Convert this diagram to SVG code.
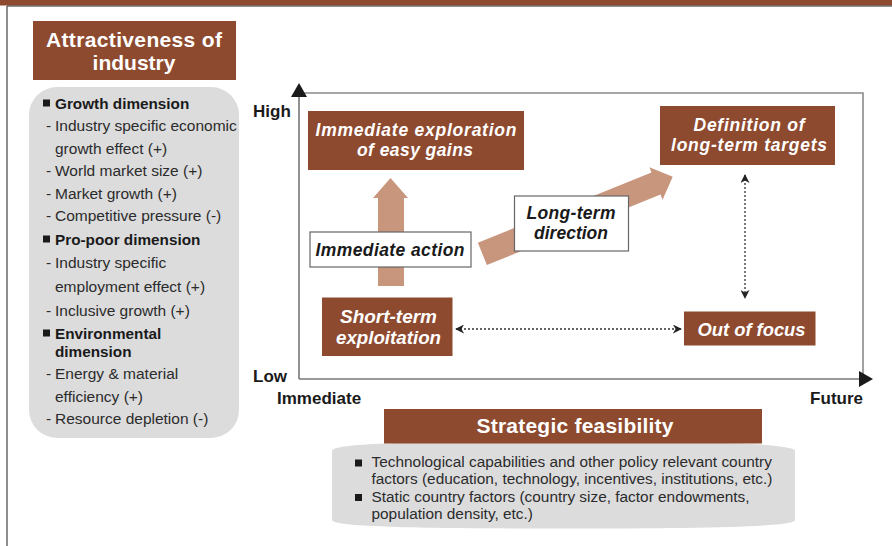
<svg xmlns="http://www.w3.org/2000/svg" width="892" height="546" viewBox="0 0 892 546">
<defs>
<style>
.brown{fill:#8E4A2F}
.tan{fill:#C8957D}
.panel{fill:#DCDCDD}
.wbox{fill:#FFFFFF;stroke:#666;stroke-width:1.2}
.t{font-family:"Liberation Sans",Arial,Helvetica,sans-serif}
.title{font-size:21px;font-weight:bold;fill:#FFFFFF}
.boxt{font-size:17.5px;font-weight:bold;font-style:italic;fill:#FFFFFF}
.boxc{font-size:18.5px;font-weight:bold;font-style:italic;fill:#FFFFFF}
.lbl{font-size:17.5px;font-weight:bold;font-style:italic;fill:#1a1a1a}
.ax{font-size:17px;font-weight:bold;fill:#1a1a1a}
.item{font-size:15.5px;fill:#2b2b2b}
.head{font-size:15.3px;font-weight:bold;fill:#1a1a1a}
.feas{font-size:15.4px;fill:#2b2b2b}
.dot{fill:none;stroke:#333;stroke-width:1.3;stroke-dasharray:2 2}
.axis{stroke:#777;stroke-width:1.6;fill:none}
.frame{stroke:#8a8a8a;stroke-width:1.6;fill:none}
</style>
<marker id="ah" viewBox="0 0 10 10" refX="9" refY="5" markerWidth="9" markerHeight="9" markerUnits="userSpaceOnUse" orient="auto-start-reverse">
<path d="M0,0 L10,5 L0,10 L3,5 Z" fill="#222"/>
</marker>
</defs>

<!-- page frame -->
<rect x="0" y="0" width="892" height="5.5" class="brown"/>
<line x1="7" y1="6" x2="892" y2="6" stroke="#2b2b2b" stroke-width="1.2"/>
<line x1="7" y1="6" x2="7" y2="546" stroke="#444" stroke-width="1.2"/>

<!-- Attractiveness panel -->
<g id="attractiveness">
<rect x="33" y="21" width="203" height="59" class="brown"/>
<text class="t title" x="134" y="46.5" text-anchor="middle" textLength="176" lengthAdjust="spacing">Attractiveness of</text>
<text class="t title" x="134" y="69.5" text-anchor="middle">industry</text>
</g>

<g id="attractiveness-list">
<rect x="29" y="87" width="210" height="351" rx="28" ry="28" class="panel"/>
<rect x="43" y="99.5" width="7" height="7" fill="#1a1a1a"/>
<text class="t head" x="55" y="108.5">Growth dimension</text>
<text class="t item" x="46" y="131">-</text>
<text class="t item" x="55" y="131">Industry specific economic</text>
<text class="t item" x="55" y="153.5">growth effect (+)</text>
<text class="t item" x="46" y="176">-</text>
<text class="t item" x="55" y="176">World market size (+)</text>
<text class="t item" x="46" y="198.5">-</text>
<text class="t item" x="55" y="198.5">Market growth (+)</text>
<text class="t item" x="46" y="221">-</text>
<text class="t item" x="55" y="221">Competitive pressure (-)</text>
<rect x="43" y="235.5" width="7" height="7" fill="#1a1a1a"/>
<text class="t head" x="55" y="244.5">Pro-poor dimension</text>
<text class="t item" x="46" y="268">-</text>
<text class="t item" x="55" y="268">Industry specific</text>
<text class="t item" x="55" y="292">employment effect (+)</text>
<text class="t item" x="46" y="315.5">-</text>
<text class="t item" x="55" y="315.5">Inclusive growth (+)</text>
<rect x="43" y="329.5" width="7" height="7" fill="#1a1a1a"/>
<text class="t head" x="55" y="338.5">Environmental</text>
<text class="t head" x="55" y="356.5">dimension</text>
<text class="t item" x="46" y="379">-</text>
<text class="t item" x="55" y="379">Energy &amp; material</text>
<text class="t item" x="55" y="401.7">efficiency (+)</text>
<text class="t item" x="46" y="424.3">-</text>
<text class="t item" x="55" y="424.3">Resource depletion (-)</text>
</g>

<!-- Axes and chart frame -->
<g id="axes">
<polyline points="299,93 863,93 863,379" class="frame"/>
<line x1="299" y1="96" x2="299" y2="379" class="axis"/>
<line x1="299" y1="379" x2="860" y2="379" class="axis"/>
<polygon points="299,83 291,97 307,97" fill="#1a1a1a"/>
<polygon points="873,379 859,371 859,387" fill="#1a1a1a"/>
<text class="t ax" x="253" y="117">High</text>
<text class="t ax" x="253" y="381.5">Low</text>
<text class="t ax" x="277" y="404">Immediate</text>
<text class="t ax" x="863" y="404" text-anchor="end">Future</text>
</g>

<!-- connectors -->
<g id="connectors">
<polygon points="378,286 378,198 373,198 390.5,178 408,198 404,198 404,286" class="tan"/>
<polygon points="477.9,242.8 651.5,172.4 649.4,167.3 672.7,176.7 662.6,199.7 660.5,194.6 486.9,265" class="tan"/>
<line x1="745" y1="175" x2="745" y2="298" class="dot" marker-start="url(#ah)" marker-end="url(#ah)"/>
<line x1="456" y1="329" x2="681" y2="329" class="dot" marker-start="url(#ah)" marker-end="url(#ah)"/>
</g>

<g id="immediate-exploration">
<rect x="308" y="111" width="216" height="59" class="brown"/>
<text class="t boxt" x="416" y="135.5" text-anchor="middle" textLength="201" lengthAdjust="spacing">Immediate exploration</text>
<text class="t boxt" x="415" y="155.5" text-anchor="middle" textLength="116" lengthAdjust="spacing">of easy gains</text>
</g>

<g id="long-term-targets">
<rect x="660" y="106" width="175" height="59" class="brown"/>
<text class="t boxt" x="749" y="131" text-anchor="middle" textLength="111" lengthAdjust="spacing">Definition of</text>
<text class="t boxt" x="749" y="151" text-anchor="middle" textLength="156" lengthAdjust="spacing">long-term targets</text>
</g>

<g id="immediate-action">
<rect x="310" y="232" width="161" height="35" class="wbox"/>
<text class="t lbl" x="390" y="255.5" text-anchor="middle" textLength="149" lengthAdjust="spacing">Immediate action</text>
</g>

<g id="long-term-direction">
<rect x="514.5" y="196" width="114" height="55" class="wbox"/>
<text class="t lbl" x="571" y="218.5" text-anchor="middle" textLength="89" lengthAdjust="spacing">Long-term</text>
<text class="t lbl" x="571" y="238.5" text-anchor="middle" textLength="74" lengthAdjust="spacing">direction</text>
</g>

<g id="short-term">
<rect x="322" y="297.5" width="130.5" height="58.5" class="brown"/>
<text class="t boxc" x="388.5" y="323" text-anchor="middle" textLength="97" lengthAdjust="spacingAndGlyphs">Short-term</text>
<text class="t boxc" x="388.5" y="344" text-anchor="middle" textLength="105" lengthAdjust="spacingAndGlyphs">exploitation</text>
</g>

<g id="out-of-focus">
<rect x="684" y="311.5" width="131.5" height="34" class="brown"/>
<text class="t boxc" x="751.5" y="335.5" text-anchor="middle" textLength="108" lengthAdjust="spacingAndGlyphs">Out of focus</text>
</g>

<!-- Strategic feasibility -->
<g id="feasibility-list">
<path d="M332,451 C332,443 420,441.5 563,441.5 C706,441.5 795,443 795,451 L795,520 C795,527 706,528.5 563,528.5 C420,528.5 332,527 332,520 Z" class="panel"/>
<rect x="355" y="459.5" width="7" height="7" fill="#1a1a1a"/>
<text class="t feas" x="371.5" y="467">Technological capabilities and other policy relevant country</text>
<text class="t feas" x="371.5" y="484">factors (education, technology, incentives, institutions, etc.)</text>
<rect x="355" y="494" width="7" height="7" fill="#1a1a1a"/>
<text class="t feas" x="371.5" y="501.5">Static country factors (country size, factor endowments,</text>
<text class="t feas" x="371.5" y="518.5">population density, etc.)</text>
</g>

<g id="strategic-feasibility">
<rect x="384" y="409" width="378" height="34.5" class="brown"/>
<text class="t title" x="575" y="432.5" text-anchor="middle" textLength="197" lengthAdjust="spacing">Strategic feasibility</text>
</g>
</svg>
